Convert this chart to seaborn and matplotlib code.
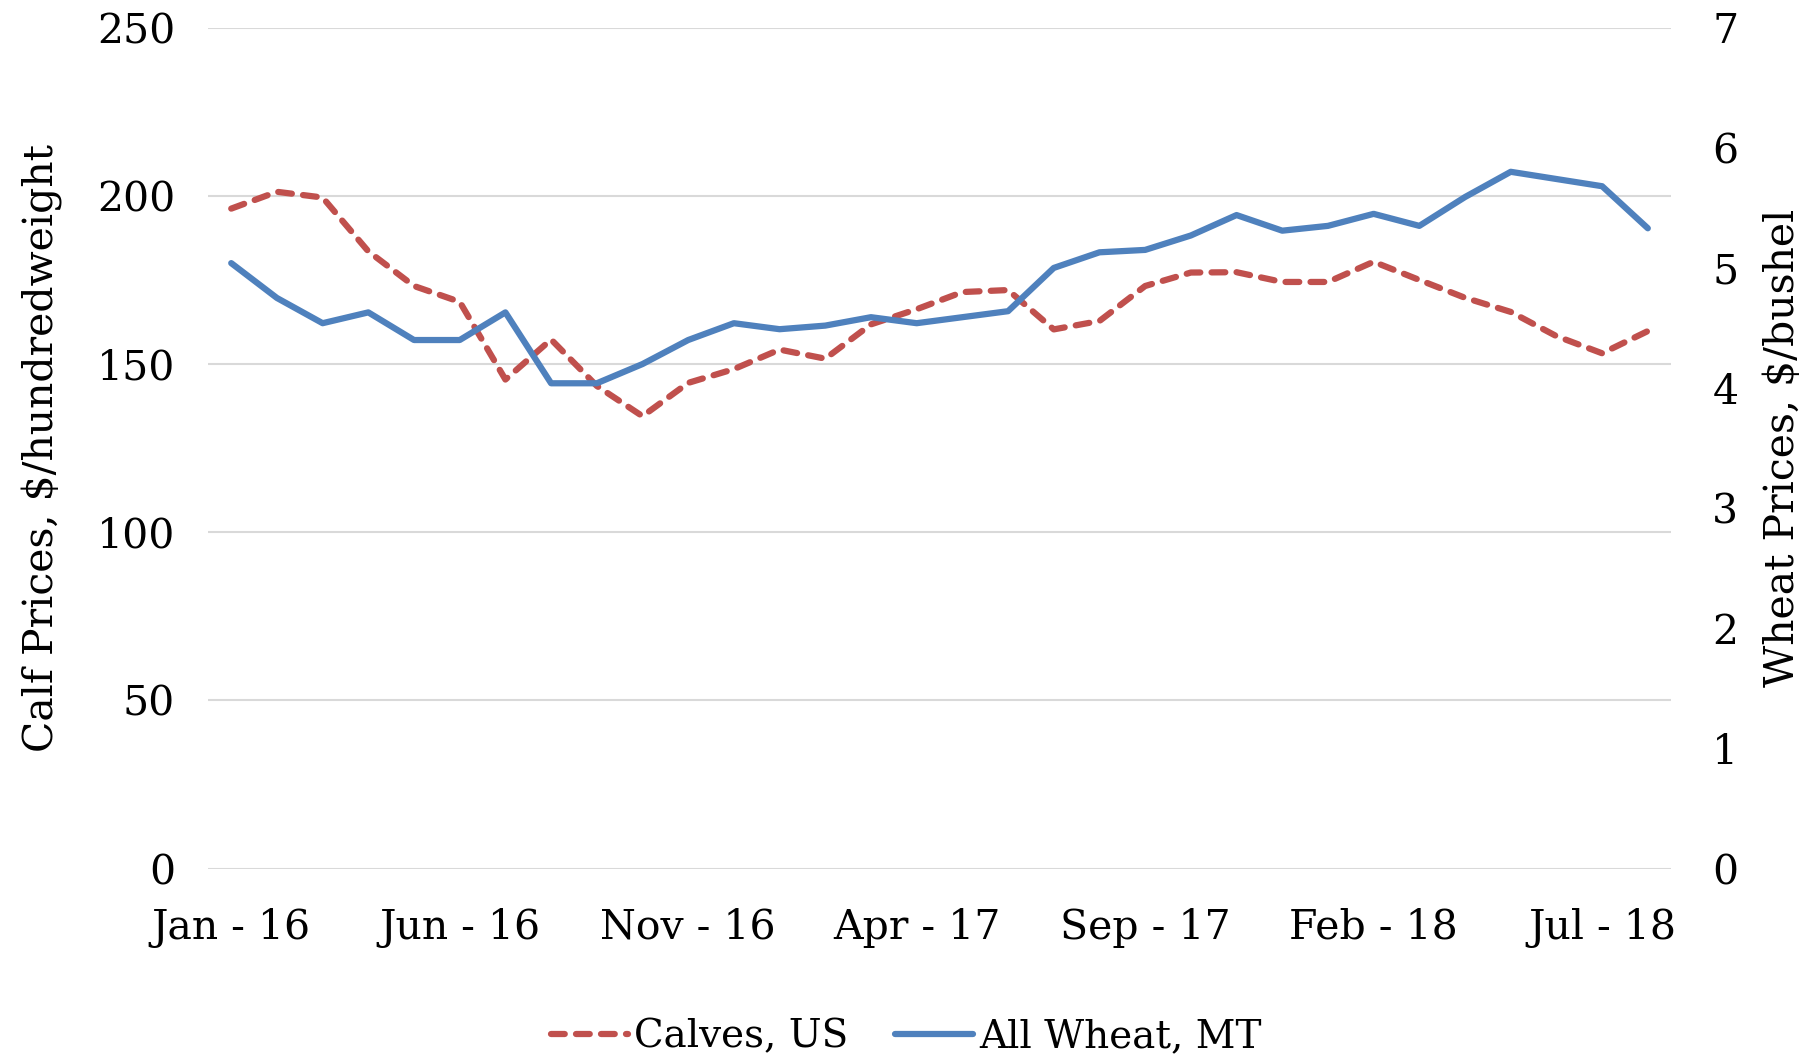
import matplotlib
matplotlib.use("Agg")
import matplotlib.pyplot as plt
import seaborn as sns
import pandas as pd

# monthly, Jan 2016 - Aug 2018
months = list(range(32))
calves_us = [196.2, 201.2, 199.5, 183.5, 173.2, 168.5, 145.4, 157.3, 143.5, 134.5,
             144.4, 148.5, 154.3, 151.6, 161.8, 166.3, 171.4, 172.0, 160.3, 162.8,
             173.2, 177.2, 177.3, 174.4, 174.4, 180.4, 175.0, 169.7, 165.5, 158.3,
             153.2, 159.8]
wheat_mt = [5.04, 4.75, 4.54, 4.63, 4.40, 4.40, 4.63, 4.04, 4.04, 4.20,
            4.40, 4.54, 4.49, 4.52, 4.59, 4.54, 4.59, 4.64, 5.00, 5.13,
            5.15, 5.27, 5.44, 5.31, 5.35, 5.45, 5.35, 5.59, 5.80, 5.74,
            5.68, 5.33]
tick_pos = [0, 5, 10, 15, 20, 25, 30]
tick_labels = ["Jan - 16", "Jun - 16", "Nov - 16", "Apr - 17", "Sep - 17", "Feb - 18", "Jul - 18"]

df = pd.DataFrame({"month": months, "calves": calves_us, "wheat": wheat_mt})

sns.set_style("white")
plt.rcParams["font.family"] = ["DejaVu Serif"]
plt.rcParams["text.color"] = "black"
plt.rcParams["axes.labelcolor"] = "black"

red = "#C0504D"
blue = "#4F81BD"
fs = 29.5

fig, ax = plt.subplots(figsize=(18.12, 10.62), dpi=100)
fig.subplots_adjust(left=0.115, right=0.922, top=0.974, bottom=0.182)
ax2 = ax.twinx()

sns.lineplot(data=df, x="month", y="calves", ax=ax, color=red, linewidth=4.5,
             linestyle=(0, (2.2, 1.8)), dash_capstyle="round",
             label="Calves, US", legend=False)
sns.lineplot(data=df, x="month", y="wheat", ax=ax2, color=blue, linewidth=4.5,
             label="All Wheat, MT", legend=False)

ax.set_xlim(-0.5, 31.5)
ax.set_ylim(0, 250)
ax2.set_ylim(0, 7)
ax.set_yticks([0, 50, 100, 150, 200, 250])
ax2.set_yticks(range(8))
ax.set_xticks(tick_pos)
ax.set_xticklabels(tick_labels)
ax.grid(axis="y", color="#d9d9d9", linewidth=1.5)
ax.set_axisbelow(True)

for a in (ax, ax2):
    for s in a.spines.values():
        s.set_visible(False)
    a.tick_params(length=0, labelsize=fs, colors="black")
ax.tick_params(axis="x", pad=28)
ax.tick_params(axis="y", pad=24)
ax2.tick_params(axis="y", pad=30)

ax.set_xlabel("")
ax.set_ylabel("Calf Prices, $/hundredweight", fontsize=fs, labelpad=24)
ax2.set_ylabel("Wheat Prices, $/bushel", fontsize=fs, labelpad=18)

h1, l1 = ax.get_legend_handles_labels()
h2, l2 = ax2.get_legend_handles_labels()
fig.legend(h1 + h2, l1 + l2, loc="lower center", ncol=2, frameon=False,
           fontsize=28, bbox_to_anchor=(0.5, -0.027), handlelength=2.0,
           handletextpad=0.15, columnspacing=1.2)

fig.savefig("out.png", dpi=100)
